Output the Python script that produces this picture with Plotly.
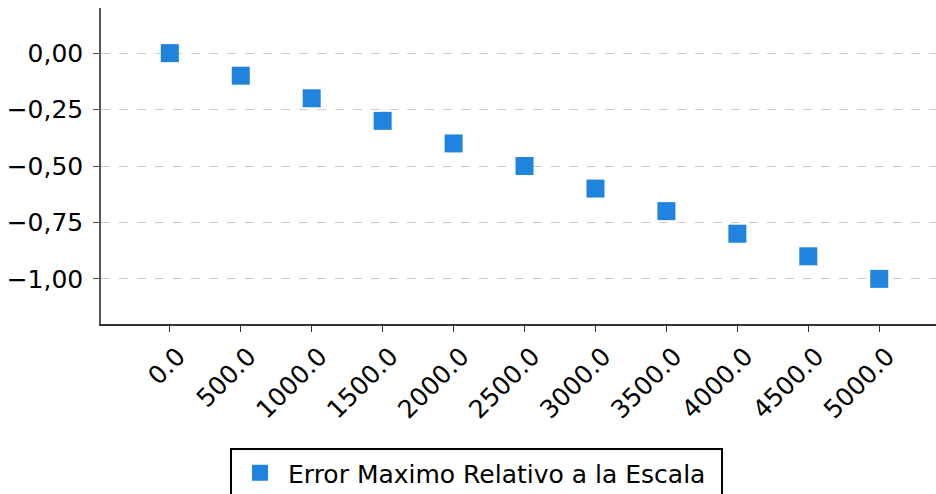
import plotly.graph_objects as go

categories = ["0.0", "500.0", "1000.0", "1500.0", "2000.0", "2500.0",
              "3000.0", "3500.0", "4000.0", "4500.0", "5000.0"]
error_values = [0.0, -0.1, -0.2, -0.3, -0.4, -0.5, -0.6, -0.7, -0.8, -0.9, -1.0]
y_ticks = [0.0, -0.25, -0.5, -0.75, -1.0]
series_name = "Error Maximo Relativo a la Escala"

FONT = "DejaVu Sans"
FS = 25

fig = go.Figure()
fig.add_trace(go.Scatter(
    x=categories, y=error_values, mode="markers", name=series_name,
    marker=dict(symbol="square", size=18, color="#2084de",
                line=dict(width=0)),
))

fig.update_layout(
    width=936, height=494,
    margin=dict(l=101, r=0, t=8, b=170),
    paper_bgcolor="white", plot_bgcolor="white",
    separators=",.",
    font=dict(family=FONT, size=FS, color="black"),
    showlegend=True,
    legend=dict(
        orientation="h", xref="container", yref="container",
        x=230 / 936, xanchor="left", y=1 - 448 / 494, yanchor="top",
        bordercolor="black", borderwidth=2, font=dict(size=FS),
        itemwidth=46, entrywidth=428, entrywidthmode="pixels",
    ),
    xaxis=dict(
        type="category", range=[-0.97, 10.8], automargin=False,
        showgrid=False, showline=True, linecolor="#333", linewidth=1.5,
        ticks="outside", ticklen=6, tickcolor="#333",
        tickangle=-45, tickfont=dict(size=FS), zeroline=False,
        ticklabelshift=8,
    ),
    yaxis=dict(
        range=[-1.2, 0.2], tickvals=y_ticks, tickformat=".2f", automargin=False,
        showgrid=True, gridcolor="#cccccc", griddash="dash", gridwidth=1,
        showline=True, linecolor="#555", linewidth=1.5,
        ticks="outside", ticklen=6, tickcolor="#555",
        tickfont=dict(size=FS), zeroline=False,
        ticklabelstandoff=5,
    ),
)

fig.write_html("out.html", config={"displayModeBar": False},
               post_script="document.body.style.margin='0';")
